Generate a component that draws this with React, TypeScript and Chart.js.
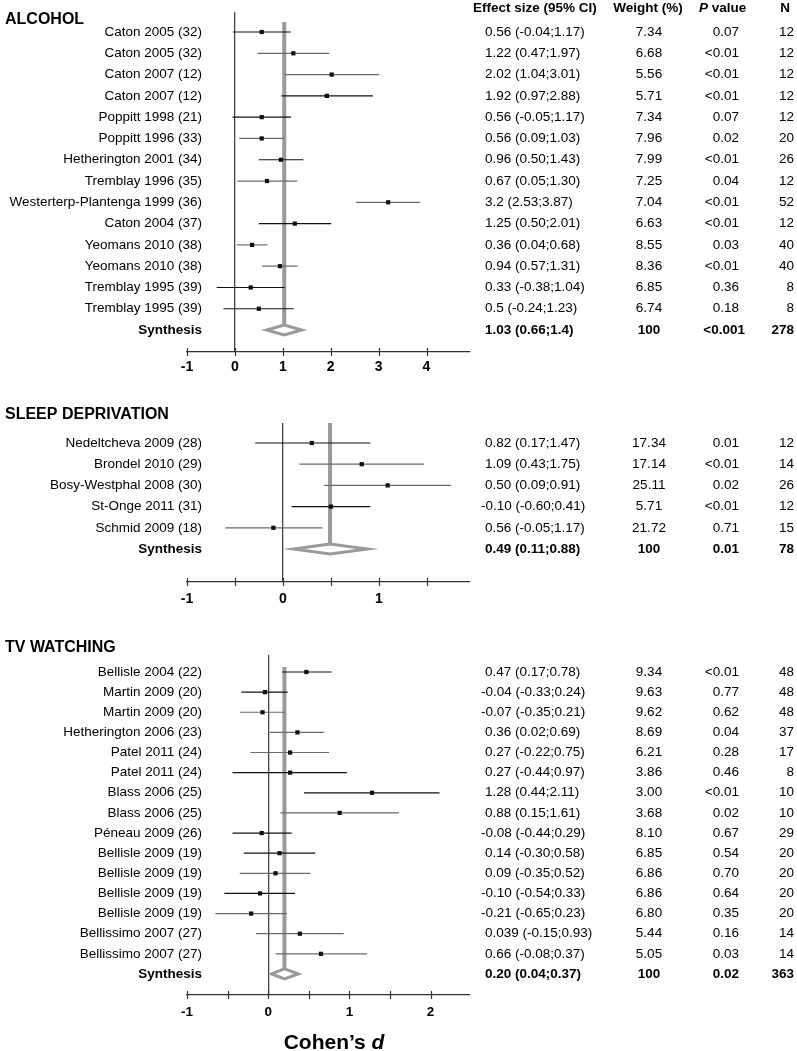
import { useEffect, useRef } from 'react';
import { Chart, registerables } from 'chart.js';

Chart.register(...registerables);

const FONT = '"Liberation Sans", Arial, Helvetica, sans-serif';

// ---------------- ALCOHOL ----------------
const alcoholStudies = [
  'Caton 2005 (32)', 'Caton 2005 (32)', 'Caton 2007 (12)', 'Caton 2007 (12)',
  'Poppitt 1998 (21)', 'Poppitt 1996 (33)', 'Hetherington 2001 (34)', 'Tremblay 1996 (35)',
  'Westerterp-Plantenga 1999 (36)', 'Caton 2004 (37)', 'Yeomans 2010 (38)', 'Yeomans 2010 (38)',
  'Tremblay 1995 (39)', 'Tremblay 1995 (39)',
];
const alcoholEffect = [0.56, 1.22, 2.02, 1.92, 0.56, 0.56, 0.96, 0.67, 3.2, 1.25, 0.36, 0.94, 0.33, 0.5];
const alcoholLower = [-0.04, 0.47, 1.04, 0.97, -0.05, 0.09, 0.5, 0.05, 2.53, 0.5, 0.04, 0.57, -0.38, -0.24];
const alcoholUpper = [1.17, 1.97, 3.01, 2.88, 1.17, 1.03, 1.43, 1.3, 3.87, 2.01, 0.68, 1.31, 1.04, 1.23];
const alcoholEffectText = [
  '0.56 (-0.04;1.17)', '1.22 (0.47;1.97)', '2.02 (1.04;3.01)', '1.92 (0.97;2.88)',
  '0.56 (-0.05;1.17)', '0.56 (0.09;1.03)', '0.96 (0.50;1.43)', '0.67 (0.05;1.30)',
  '3.2 (2.53;3.87)', '1.25 (0.50;2.01)', '0.36 (0.04;0.68)', '0.94 (0.57;1.31)',
  '0.33 (-0.38;1.04)', '0.5 (-0.24;1.23)',
];
const alcoholWeight = ['7.34', '6.68', '5.56', '5.71', '7.34', '7.96', '7.99', '7.25', '7.04', '6.63', '8.55', '8.36', '6.85', '6.74'];
const alcoholP = ['0.07', '<0.01', '<0.01', '<0.01', '0.07', '0.02', '<0.01', '0.04', '<0.01', '<0.01', '0.03', '<0.01', '0.36', '0.18'];
const alcoholN = ['12', '12', '12', '12', '12', '20', '26', '12', '52', '12', '40', '40', '8', '8'];
const alcoholSynthesis = [1.03, 0.66, 1.4];
const alcoholSynthesisText = ['1.03 (0.66;1.4)', '100', '<0.001', '278'];
const alcoholTicks = [-1, 0, 1, 2, 3, 4];
const alcoholTickLabels = ['-1', '0', '1', '2', '3', '4'];

// ---------------- SLEEP DEPRIVATION ----------------
const sleepStudies = ['Nedeltcheva 2009 (28)', 'Brondel 2010 (29)', 'Bosy-Westphal 2008 (30)', 'St-Onge 2011 (31)', 'Schmid 2009 (18)'];
const sleepEffect = [0.3, 0.82, 1.09, 0.5, -0.1];
const sleepLower = [-0.29, 0.17, 0.43, 0.09, -0.6];
const sleepUpper = [0.91, 1.47, 1.75, 0.91, 0.41];
const sleepEffectText = ['0.82 (0.17;1.47)', '1.09 (0.43;1.75)', '0.50 (0.09;0.91)', '-0.10 (-0.60;0.41)', '0.56 (-0.05;1.17)'];
const sleepWeight = ['17.34', '17.14', '25.11', '5.71', '21.72'];
const sleepP = ['0.01', '<0.01', '0.02', '<0.01', '0.71'];
const sleepN = ['12', '14', '26', '12', '15'];
const sleepSynthesis = [0.49, 0.11, 0.88];
const sleepSynthesisText = ['0.49 (0.11;0.88)', '100', '0.01', '78'];
const sleepTicks = [-1, -0.5, 0, 0.5, 1, 1.5];
const sleepTickLabels = ['-1', '', '0', '', '1', ''];

// ---------------- TV WATCHING ----------------
const tvStudies = [
  'Bellisle 2004 (22)', 'Martin 2009 (20)', 'Martin 2009 (20)', 'Hetherington 2006 (23)',
  'Patel 2011 (24)', 'Patel 2011 (24)', 'Blass 2006 (25)', 'Blass 2006 (25)', 'Péneau 2009 (26)',
  'Bellisle 2009 (19)', 'Bellisle 2009 (19)', 'Bellisle 2009 (19)', 'Bellisle 2009 (19)',
  'Bellissimo 2007 (27)', 'Bellissimo 2007 (27)',
];
const tvEffect = [0.47, -0.04, -0.07, 0.36, 0.27, 0.27, 1.28, 0.88, -0.08, 0.14, 0.09, -0.1, -0.21, 0.39, 0.65];
const tvLower = [0.17, -0.33, -0.35, 0.02, -0.22, -0.44, 0.44, 0.15, -0.44, -0.3, -0.35, -0.54, -0.65, -0.15, 0.09];
const tvUpper = [0.78, 0.24, 0.21, 0.69, 0.75, 0.97, 2.11, 1.61, 0.29, 0.58, 0.52, 0.33, 0.23, 0.93, 1.22];
const tvEffectText = [
  '0.47 (0.17;0.78)', '-0.04 (-0.33;0.24)', '-0.07 (-0.35;0.21)', '0.36 (0.02;0.69)',
  '0.27 (-0.22;0.75)', '0.27 (-0.44;0.97)', '1.28 (0.44;2.11)', '0.88 (0.15;1.61)',
  '-0.08 (-0.44;0.29)', '0.14 (-0.30;0.58)', '0.09 (-0.35;0.52)', '-0.10 (-0.54;0.33)',
  '-0.21 (-0.65;0.23)', '0.039 (-0.15;0.93)', '0.66 (-0.08;0.37)',
];
const tvWeight = ['9.34', '9.63', '9.62', '8.69', '6.21', '3.86', '3.00', '3.68', '8.10', '6.85', '6.86', '6.86', '6.80', '5.44', '5.05'];
const tvP = ['<0.01', '0.77', '0.62', '0.04', '0.28', '0.46', '<0.01', '0.02', '0.67', '0.54', '0.70', '0.64', '0.35', '0.16', '0.03'];
const tvN = ['48', '48', '48', '37', '17', '8', '10', '10', '29', '20', '20', '20', '20', '14', '14'];
const tvSynthesis = [0.2, 0.04, 0.37];
const tvSynthesisText = ['0.20 (0.04;0.37)', '100', '0.02', '363'];
const tvTicks = [-1, -0.5, 0, 0.5, 1, 1.5, 2];
const tvTickLabels = ['-1', '', '0', '', '1', '', '2'];

const headerLabels = ['Effect size (95% CI)', 'Weight (%)', 'P', ' value', 'N'];
const synthesisLabel = 'Synthesis';
const xTitleParts = ['Cohen’s ', 'd'];

// ---------------- styles ----------------
const K = '#111';
const G = '#6a6a6a';
const alcoholTones = [K, G, G, K, K, G, K, G, G, K, G, G, K, K];
const sleepTones = [K, G, G, K, G];
const tvTones = [K, K, G, G, G, K, K, G, K, K, G, K, G, G, G];

type Layout = {
  top: number; height: number; chartTop: number; chartBottom: number;
  firstRow: number; rowStep: number; thickTop: number; titleBaseline: number;
  tickFont: number; tickPad: number; xMax: number;
};

type Panel = {
  key: string; title: string; studies: string[]; est: number[]; lo: number[]; hi: number[];
  effText: string[]; weight: string[]; p: string[]; n: string[];
  synth: number[]; synthText: string[]; ticks: number[]; tickLabels: string[];
  tones: string[]; header: boolean; xTitle: boolean; layout: Layout;
};

const panels: Panel[] = [
  {
    key: 'alcohol', title: 'ALCOHOL', studies: alcoholStudies, est: alcoholEffect, lo: alcoholLower, hi: alcoholUpper,
    effText: alcoholEffectText, weight: alcoholWeight, p: alcoholP, n: alcoholN,
    synth: alcoholSynthesis, synthText: alcoholSynthesisText, ticks: alcoholTicks, tickLabels: alcoholTickLabels,
    tones: alcoholTones, header: true, xTitle: false,
    layout: { top: 0, height: 380, chartTop: 12, chartBottom: 352, firstRow: 32, rowStep: 21.29, thickTop: 22, titleBaseline: 24, tickFont: 14, tickPad: 7, xMax: -1 + 283 / 47.9 },
  },
  {
    key: 'sleep', title: 'SLEEP DEPRIVATION', studies: sleepStudies, est: sleepEffect, lo: sleepLower, hi: sleepUpper,
    effText: sleepEffectText, weight: sleepWeight, p: sleepP, n: sleepN,
    synth: sleepSynthesis, synthText: sleepSynthesisText, ticks: sleepTicks, tickLabels: sleepTickLabels,
    tones: sleepTones, header: false, xTitle: false,
    layout: { top: 380, height: 250, chartTop: 43, chartBottom: 202, firstRow: 63, rowStep: 21.2, thickTop: 43, titleBaseline: 39, tickFont: 14, tickPad: 9, xMax: -1 + 283 / 96 },
  },
  {
    key: 'tv', title: 'TV WATCHING', studies: tvStudies, est: tvEffect, lo: tvLower, hi: tvUpper,
    effText: tvEffectText, weight: tvWeight, p: tvP, n: tvN,
    synth: tvSynthesis, synthText: tvSynthesisText, ticks: tvTicks, tickLabels: tvTickLabels,
    tones: tvTones, header: false, xTitle: true,
    layout: { top: 630, height: 421, chartTop: 25, chartBottom: 365, firstRow: 42, rowStep: 20.13, thickTop: 37, titleBaseline: 22, tickFont: 13.5, tickPad: 9, xMax: -1 + 283 / 81.2 },
  },
];

function makeTextPlugin(p: Panel) {
  return {
    id: 'forestText',
    afterDraw(chart: any) {
      const ctx: CanvasRenderingContext2D = chart.ctx;
      const ys = chart.scales.y;
      const xs = chart.scales.x;
      const area = chart.chartArea;
      const L = p.layout;
      ctx.save();
      // tick marks crossing the axis
      ctx.strokeStyle = '#333';
      ctx.lineWidth = 1.2;
      xs.ticks.forEach((t: any) => {
        const px = Math.round(xs.getPixelForValue(t.value)) + 0.5;
        ctx.beginPath();
        ctx.moveTo(px, area.bottom - 4);
        ctx.lineTo(px, area.bottom + 4);
        ctx.stroke();
      });
      ctx.fillStyle = '#000';
      // panel title
      ctx.textAlign = 'left';
      ctx.textBaseline = 'alphabetic';
      ctx.font = `bold 16px ${FONT}`;
      ctx.fillText(p.title, 5, L.titleBaseline);
      // header
      if (p.header) {
        const hb = 12;
        ctx.font = `bold 13.5px ${FONT}`;
        ctx.textAlign = 'left';
        ctx.fillText(headerLabels[0], 473, hb);
        ctx.textAlign = 'center';
        ctx.fillText(headerLabels[1], 648, hb);
        ctx.textAlign = 'left';
        ctx.font = `italic bold 13.5px ${FONT}`;
        ctx.fillText(headerLabels[2], 699, hb);
        const pw = ctx.measureText(headerLabels[2]).width;
        ctx.font = `bold 13.5px ${FONT}`;
        ctx.fillText(headerLabels[3], 699 + pw, hb);
        ctx.textAlign = 'center';
        ctx.fillText(headerLabels[4], 785, hb);
      }
      // study labels and table rows
      ctx.textBaseline = 'middle';
      const nStudy = p.studies.length;
      for (let i = 0; i <= nStudy; i++) {
        const py = ys.getPixelForValue(i);
        const bold = i === nStudy;
        const name = bold ? synthesisLabel : p.studies[i];
        const eff = bold ? p.synthText[0] : p.effText[i];
        const w = bold ? p.synthText[1] : p.weight[i];
        const pv = bold ? p.synthText[2] : p.p[i];
        const nn = bold ? p.synthText[3] : p.n[i];
        ctx.font = `${bold ? 'bold ' : ''}13.5px ${FONT}`;
        ctx.textAlign = 'right';
        ctx.fillText(name, 202, py);
        ctx.textAlign = 'left';
        ctx.fillText(eff, eff.startsWith('-') ? 481 : 485, py);
        ctx.textAlign = 'center';
        ctx.fillText(w, 649, py);
        ctx.textAlign = 'right';
        ctx.fillText(pv, pv === '<0.001' ? 745 : 739, py);
        ctx.fillText(nn, 794, py);
      }
      // x title
      if (p.xTitle) {
        ctx.textBaseline = 'alphabetic';
        ctx.textAlign = 'left';
        ctx.font = `bold 21px ${FONT}`;
        const w1 = ctx.measureText(xTitleParts[0]).width;
        ctx.font = `italic bold 21px ${FONT}`;
        const w2 = ctx.measureText(xTitleParts[1]).width;
        const x0 = 334 - (w1 + w2) / 2;
        ctx.font = `bold 21px ${FONT}`;
        ctx.fillText(xTitleParts[0], x0, 419);
        ctx.font = `italic bold 21px ${FONT}`;
        ctx.fillText(xTitleParts[1], x0 + w1, 419);
      }
      ctx.restore();
    },
  };
}

function makeConfig(p: Panel): any {
  const L = p.layout;
  const nStudy = p.studies.length;
  const synthRow = nStudy;
  const yMin = -(L.firstRow - L.chartTop) / L.rowStep;
  const yMax = yMin + (L.chartBottom - L.chartTop) / L.rowStep;
  const dh = 5 / L.rowStep;
  const thickTopRow = (L.thickTop - L.firstRow) / L.rowStep;
  const [sEst, sLo, sHi] = p.synth;

  const datasets: any[] = [];
  datasets.push({
    label: 'estimates',
    data: p.est.map((x, i) => ({ x, y: i })),
    pointStyle: 'rect', pointRadius: 3, pointHoverRadius: 3,
    backgroundColor: '#111', borderWidth: 0, order: 0,
  });
  p.est.forEach((_, i) => {
    datasets.push({
      label: 'ci' + i,
      data: [{ x: p.lo[i], y: i }, { x: p.hi[i], y: i }],
      showLine: true, borderColor: p.tones[i], borderWidth: 1.2,
      pointRadius: 0, pointHoverRadius: 0, order: 1,
    });
  });
  datasets.push({
    label: 'diamond',
    data: [
      { x: sLo, y: synthRow }, { x: sEst, y: synthRow - dh }, { x: sHi, y: synthRow },
      { x: sEst, y: synthRow + dh }, { x: sLo, y: synthRow }, { x: sEst, y: synthRow - dh },
    ],
    showLine: true, borderColor: '#9a9a9a', borderWidth: 3, borderJoinStyle: 'miter',
    pointRadius: 0, pointHoverRadius: 0, order: 2,
  });
  datasets.push({
    label: 'pooled',
    data: [{ x: sEst, y: thickTopRow }, { x: sEst, y: synthRow - dh }],
    showLine: true, borderColor: '#9a9a9a', borderWidth: 4, borderCapStyle: 'butt',
    pointRadius: 0, pointHoverRadius: 0, order: 3,
  });

  return {
    type: 'scatter',
    data: { datasets },
    plugins: [makeTextPlugin(p)],
    options: {
      responsive: false,
      animation: false,
      events: [],
      layout: { padding: { left: 0, right: 797 - 470, top: L.chartTop, bottom: 0 } },
      plugins: { legend: { display: false }, tooltip: { enabled: false } },
      scales: {
        x: {
          type: 'linear', position: 'bottom', min: -1, max: L.xMax,
          afterBuildTicks: (s: any) => { s.ticks = p.ticks.map((v) => ({ value: v })); },
          afterFit: (s: any) => { s.height = L.height - L.chartBottom; },
          ticks: {
            autoSkip: false, maxRotation: 0, padding: L.tickPad, color: '#000',
            font: { family: FONT, size: L.tickFont, weight: 'bold' },
            callback: (_v: any, i: number) => p.tickLabels[i] ?? '',
          },
          grid: {
            drawTicks: false,
            color: (c: any) => (c.tick && c.tick.value === 0 ? '#444' : 'rgba(0,0,0,0)'),
            lineWidth: 1.3,
          },
          border: { display: true, color: '#333', width: 1.3 },
        },
        y: {
          type: 'linear', reverse: true, min: yMin, max: yMax,
          afterBuildTicks: (s: any) => { s.ticks = p.est.map((_, i) => ({ value: i })); },
          afterFit: (s: any) => { s.width = 187; },
          ticks: { display: false },
          grid: { display: false, drawTicks: false },
          border: { display: false },
        },
      },
    },
  };
}

function ForestPanel({ panel }: { panel: Panel }) {
  const ref = useRef<HTMLCanvasElement>(null);
  useEffect(() => {
    if (!ref.current) return;
    const chart = new Chart(ref.current, makeConfig(panel));
    return () => chart.destroy();
  }, [panel]);
  return (
    <canvas
      ref={ref}
      width={797}
      height={panel.layout.height}
      style={{ position: 'absolute', left: 0, top: panel.layout.top, width: 797, height: panel.layout.height, display: 'block' }}
    />
  );
}

export default function App() {
  return (
    <div style={{ position: 'absolute', left: 0, top: 0, width: 797, height: 1051, background: '#fff', overflow: 'hidden' }}>
      {panels.map((p) => (
        <ForestPanel key={p.key} panel={p} />
      ))}
    </div>
  );
}
